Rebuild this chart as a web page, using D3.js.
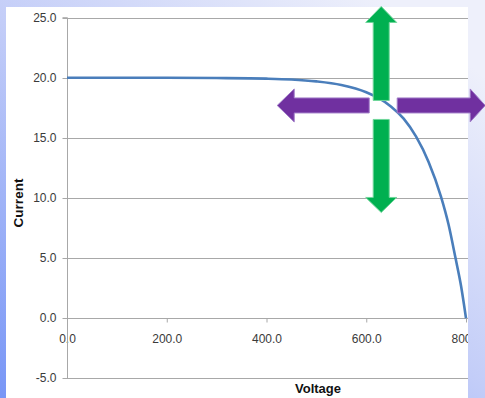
<!DOCTYPE html>
<html>
<head>
<meta charset="utf-8">
<script src="https://cdn.jsdelivr.net/npm/d3@7"></script>
<style>
  html, body { margin: 0; padding: 0; background: #ffffff; }
  svg { display: block; }
</style>
</head>
<body>
<svg id="chart" width="485" height="398"></svg>
<script>
// ---- data ----
const voltage = [0, 100, 200, 300, 400, 450, 500, 550, 600, 625, 650, 675, 700, 725, 750, 765, 779, 790, 800];
const current = [20.0, 20.0, 20.0, 19.98, 19.93, 19.86, 19.7, 19.4, 18.8, 18.3, 17.6, 16.6, 15.1, 13.0, 10.1, 7.8, 5.0, 2.7, 0.0];
const xTicks = [0, 200, 400, 600, 800];
const yTicks = [-5, 0, 5, 10, 15, 20, 25];
const xTitle = "Voltage";
const yTitle = "Current";
// annotation pivot (where the arrows cross), in data units
const pivotV = [630];
const pivotI = [17.7];

const W = 485, H = 398;
const svg = d3.select("#chart");
const defs = svg.append("defs");

// background gradient
const bg = defs.append("linearGradient").attr("id", "bg")
  .attr("gradientUnits", "userSpaceOnUse")
  .attr("x1", 0).attr("y1", 398).attr("x2", 330).attr("y2", -40);
bg.append("stop").attr("offset", 0).attr("stop-color", "#7896f6");
bg.append("stop").attr("offset", 0.55).attr("stop-color", "#c3cdf8");
bg.append("stop").attr("offset", 1).attr("stop-color", "#eef0fb");
svg.append("rect").attr("width", W).attr("height", H).attr("fill", "url(#bg)");

// white chart area
const area = { x: 6, y: 7, w: 462, h: 391 };
svg.append("rect").attr("x", area.x).attr("y", area.y).attr("width", area.w).attr("height", area.h).attr("fill", "#ffffff");
defs.append("clipPath").attr("id", "clip").append("rect")
  .attr("x", area.x).attr("y", area.y).attr("width", area.w).attr("height", area.h);

const g = svg.append("g").attr("clip-path", "url(#clip)");

const x = d3.scaleLinear().domain([0, 800]).range([67, 466]);
const y = d3.scaleLinear().domain([-5, 25]).range([378.3, 17.7]);

const gridColor = "#a8a8a8";
const font = "'Liberation Sans', Arial, sans-serif";
const fmt = d => d3.format(".1f")(d).replace("\u2212", "-");

// horizontal gridlines
g.append("g").selectAll("line").data(yTicks).join("line")
  .attr("x1", x(0)).attr("x2", 470)
  .attr("y1", d => Math.round(y(d)) + 0.5).attr("y2", d => Math.round(y(d)) + 0.5)
  .attr("stroke", gridColor).attr("stroke-width", 1);

// y axis
const yAxis = d3.axisLeft(y).tickValues(yTicks).tickSize(5).tickPadding(6).tickFormat(fmt);
const gy = g.append("g").attr("transform", `translate(${Math.round(x(0)) + 0.5},0)`).call(yAxis);
gy.select(".domain").attr("stroke", gridColor).attr("d", `M-5,${y(25)}H0V${y(-5)}`);
gy.selectAll(".tick line").attr("stroke", gridColor);
gy.selectAll(".tick text").attr("font-family", font).attr("font-size", 12).attr("fill", "#3a3a3a");
gy.selectAll(".tick").attr("transform", d => `translate(0,${Math.round(y(d)) + 0.5})`);

// x axis at current = 0
const xAxis = d3.axisBottom(x).tickValues(xTicks).tickSize(4).tickPadding(12).tickFormat(fmt);
const gx = g.append("g").attr("transform", `translate(0,${Math.round(y(0)) + 0.5})`).call(xAxis);
gx.select(".domain").attr("stroke", "none");
gx.selectAll(".tick line").attr("stroke", gridColor);
gx.selectAll(".tick text").attr("font-family", font).attr("font-size", 12).attr("fill", "#3a3a3a");
gx.lower(); // let the y-axis line cross the "0.0" label

// curve
const line = d3.line().x((d, i) => x(voltage[i])).y(d => y(d)).curve(d3.curveMonotoneX);
g.append("path").datum(current).attr("d", line)
  .attr("fill", "none").attr("stroke", "#4a7ebb").attr("stroke-width", 2.6);

// axis titles
g.append("text").attr("x", 318).attr("y", 393).attr("text-anchor", "middle")
  .attr("font-family", font).attr("font-size", 13).attr("font-weight", "bold").attr("fill", "#111")
  .text(xTitle);
g.append("text").attr("transform", "translate(23,203) rotate(-90)").attr("text-anchor", "middle")
  .attr("font-family", font).attr("font-size", 13.5).attr("font-weight", "bold").attr("fill", "#111")
  .text(yTitle);

// arrows (decorative annotation around the pivot)
const px = x(pivotV[0]), py = y(pivotI[0]);
function arrow(dir, start, end, shaftW, headW, headL) {
  const s = shaftW / 2, h = headW / 2;
  const pts = [[start, -s], [end - headL, -s], [end - headL, -h], [end, 0], [end - headL, h], [end - headL, s], [start, s]];
  const map = {
    up: p => [px + p[1], py - p[0]],
    down: p => [px + p[1], py + p[0]],
    left: p => [px - p[0], py + p[1]],
    right: p => [px + p[0], py + p[1]]
  };
  return pts.map(map[dir]);
}
const arrows = [
  { a: arrow("up", 5, 99, 16, 31, 16), fill: "#00b050", stroke: "#6fd69a" },
  { a: arrow("down", 14, 107, 16, 31, 15), fill: "#00b050", stroke: "#6fd69a" },
  { a: arrow("left", 12, 104, 15, 33, 17), fill: "#7030a0", stroke: "#a07cc8" },
  { a: arrow("right", 16, 104, 15, 33, 15), fill: "#7030a0", stroke: "#a07cc8" }
];
svg.append("g").selectAll("polygon").data(arrows).join("polygon")
  .attr("points", d => d.a.map(p => p.join(",")).join(" "))
  .attr("fill", d => d.fill).attr("stroke", d => d.stroke).attr("stroke-width", 1);
</script>
</body>
</html>
